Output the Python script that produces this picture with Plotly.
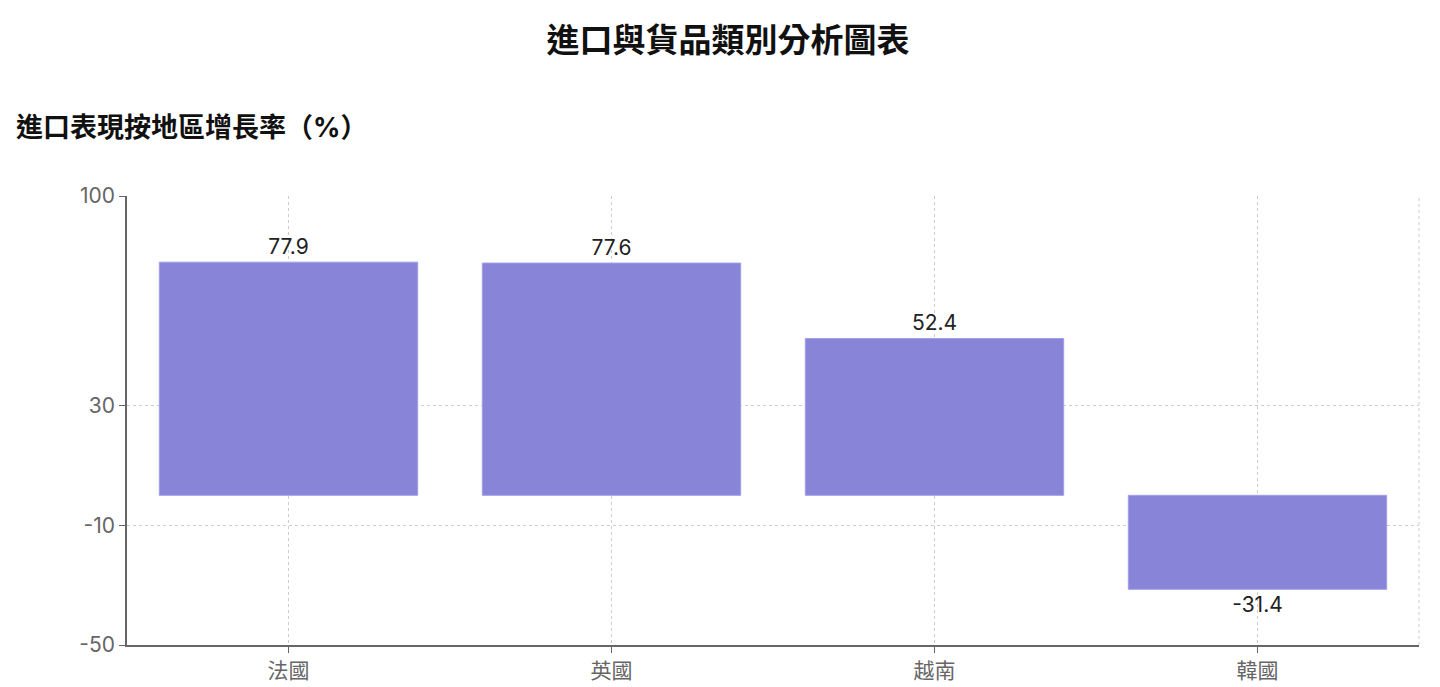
import plotly.graph_objects as go

# data
regions = ["法國", "英國", "越南", "韓國"]
growth = [77.9, 77.6, 52.4, -31.4]
y_ticks = [-50, -10, 30, 100]

title = "進口與貨品類別分析圖表"
subtitle = "進口表現按地區增長率（%）"

font_stack = "Inter, 'Noto Sans CJK TC', 'Noto Sans', sans-serif"
grid_color = "#cccccc"
axis_color = "#666666"

# the page body adds an 8px offset, so margins are trimmed by that much
fig = go.Figure(
    go.Bar(
        x=regions,
        y=growth,
        text=[str(v) for v in growth],
        texttemplate="%{text}",
        textposition="outside",
        textfont=dict(size=21, color="#222222"),
        cliponaxis=False,
        marker=dict(color="#8884d8", line=dict(color="#a29fe6", width=1)),
        width=0.8,
        hoverinfo="x+y",
    )
)

fig.update_layout(
    width=1440,
    height=687,
    margin=dict(l=119, r=29, t=188, b=50),
    plot_bgcolor="white",
    paper_bgcolor="white",
    font=dict(family=font_stack, size=20, color=axis_color),
    showlegend=False,
    bargap=0.2,
    title=dict(
        text=title,
        x=0.5,
        xanchor="center",
        y=1 - 32 / 687,
        yanchor="middle",
        font=dict(size=33, color="#111111", family=font_stack, weight="bold"),
    ),
    annotations=[
        dict(
            text=subtitle,
            xref="paper",
            yref="paper",
            x=-113 / 1292,
            xanchor="left",
            y=1 + (188 - 119) / 449,
            yanchor="middle",
            showarrow=False,
            font=dict(size=27, color="#111111", family=font_stack, weight="bold"),
        )
    ],
    shapes=[
        # dashed right border, as in the reference grid
        dict(
            type="line",
            xref="paper",
            yref="paper",
            x0=1,
            x1=1,
            y0=0,
            y1=1,
            line=dict(color=grid_color, width=1, dash="3px,3px"),
            layer="below",
        )
    ],
)

fig.update_xaxes(
    showgrid=True,
    gridcolor=grid_color,
    griddash="3px,3px",
    gridwidth=1,
    showline=True,
    linecolor=axis_color,
    linewidth=1.5,
    ticks="outside",
    ticklen=6,
    tickcolor=axis_color,
    tickfont=dict(size=21, color=axis_color),
)

fig.update_yaxes(
    range=[-50, 100],
    tickmode="array",
    tickvals=y_ticks,
    ticktext=[str(v) for v in y_ticks],
    showgrid=True,
    gridcolor=grid_color,
    griddash="3px,3px",
    gridwidth=1,
    zeroline=False,
    showline=True,
    linecolor=axis_color,
    linewidth=1.5,
    ticks="outside",
    ticklen=6,
    tickcolor=axis_color,
    tickfont=dict(size=21, color=axis_color),
)

fig.write_html("out.html")
